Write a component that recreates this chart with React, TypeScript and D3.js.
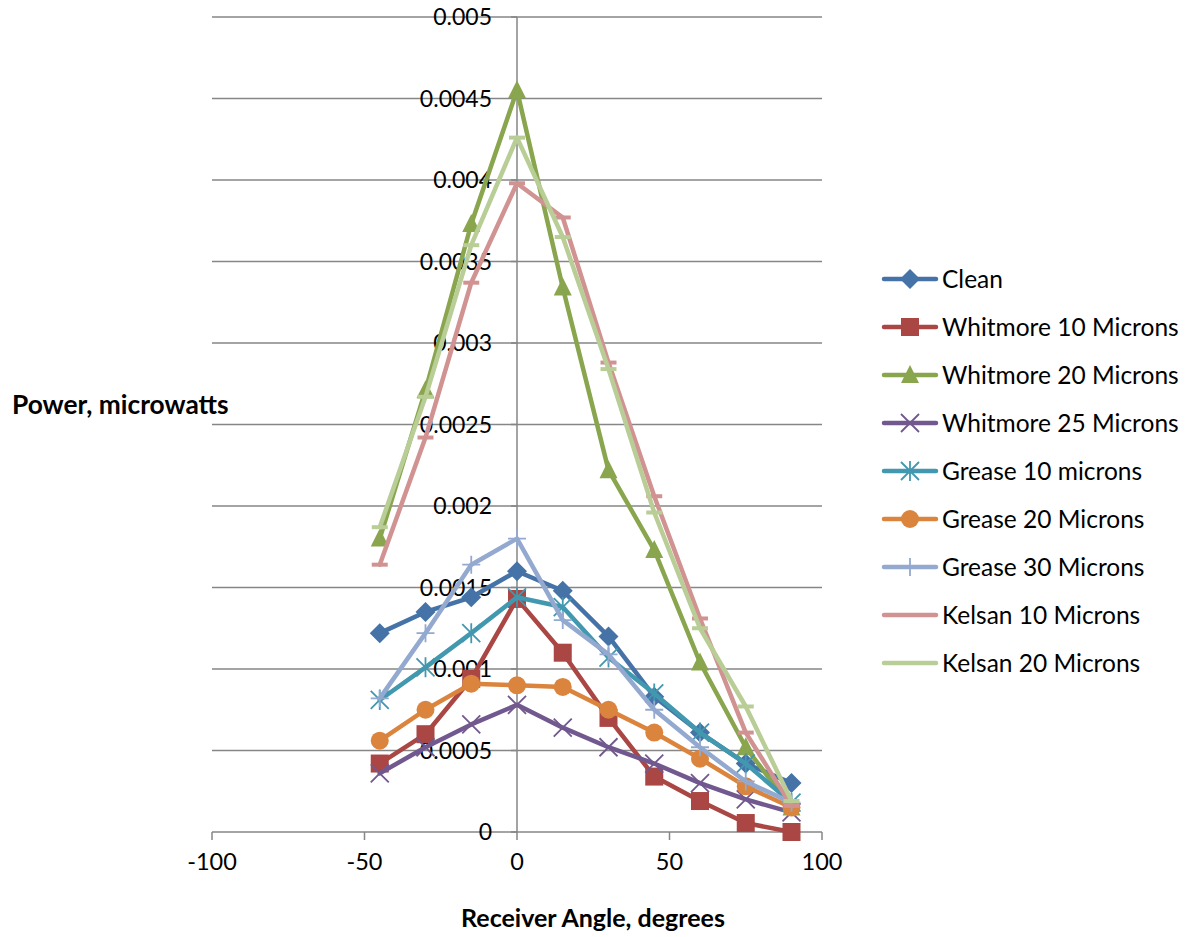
import React from "react";
import * as d3 from "d3";

const angles = [-45, -30, -15, 0, 15, 30, 45, 60, 75, 90];

const clean = [0.00122, 0.00135, 0.00144, 0.0016, 0.00148, 0.0012, 0.00083, 0.00061, 0.00042, 0.0003];
const whitmore10 = [0.00042, 0.0006, 0.00094, 0.00143, 0.0011, 0.0007, 0.00034, 0.00019, 0.000055, 0.0];
const whitmore20 = [0.0018, 0.00271, 0.00373, 0.00455, 0.00334, 0.00222, 0.00173, 0.00104, 0.00052, 0.00015];
const whitmore25 = [0.00036, 0.00052, 0.00066, 0.00078, 0.00064, 0.00052, 0.00042, 0.0003, 0.0002, 0.00012];
const grease10 = [0.00081, 0.00101, 0.00122, 0.00144, 0.00138, 0.00107, 0.00085, 0.00061, 0.00042, 0.00018];
const grease20 = [0.00056, 0.00075, 0.00091, 0.0009, 0.00089, 0.00075, 0.00061, 0.00045, 0.00028, 0.00015];
const grease30 = [0.00082, 0.00122, 0.00164, 0.0018, 0.0013, 0.00109, 0.00075, 0.00052, 0.00031, 0.00018];
const kelsan10 = [0.00164, 0.00242, 0.00337, 0.00398, 0.00377, 0.00288, 0.00206, 0.00131, 0.00061, 0.00016];
const kelsan20 = [0.00187, 0.00267, 0.0036, 0.00426, 0.00365, 0.00284, 0.00196, 0.00125, 0.00077, 0.00019];

const seriesNames = [
  "Clean",
  "Whitmore 10 Microns",
  "Whitmore 20 Microns",
  "Whitmore 25 Microns",
  "Grease 10 microns",
  "Grease 20 Microns",
  "Grease 30 Microns",
  "Kelsan 10 Microns",
  "Kelsan 20 Microns",
];
const seriesValues = [clean, whitmore10, whitmore20, whitmore25, grease10, grease20, grease30, kelsan10, kelsan20];
const seriesColors = ["#4572A7", "#AA4643", "#89A54E", "#71588F", "#4198AF", "#DB843D", "#93A9CF", "#D19392", "#B9CD96"];
const seriesMarkers = ["diamond", "square", "triangle", "x", "star", "circle", "plus", "dash", "dash"];

const xTicks = [-100, -50, 0, 50, 100];
const yTicks = [0, 0.0005, 0.001, 0.0015, 0.002, 0.0025, 0.003, 0.0035, 0.004, 0.0045, 0.005];

const W = 1187;
const H = 937;
const plot = { left: 212, right: 822, top: 17, bottom: 832 };
const FONT = "Lato, 'Open Sans', 'DejaVu Sans', sans-serif";

const x = d3.scaleLinear().domain([-100, 100]).range([plot.left, plot.right]);
const y = d3.scaleLinear().domain([0, 0.005]).range([plot.bottom, plot.top]);

function Marker({ kind, cx, cy, color }: { kind: string; cx: number; cy: number; color: string }) {
  const s = 9;
  switch (kind) {
    case "diamond":
      return <path d={`M${cx},${cy - s - 1}L${cx + s + 1},${cy}L${cx},${cy + s + 1}L${cx - s - 1},${cy}Z`} fill={color} />;
    case "square":
      return <rect x={cx - s} y={cy - s} width={2 * s} height={2 * s} fill={color} />;
    case "triangle":
      return <path d={`M${cx},${cy - s - 1}L${cx + s},${cy + s - 1}L${cx - s},${cy + s - 1}Z`} fill={color} />;
    case "circle":
      return <circle cx={cx} cy={cy} r={s} fill={color} />;
    case "x":
      return (
        <path d={`M${cx - s},${cy - s}L${cx + s},${cy + s}M${cx - s},${cy + s}L${cx + s},${cy - s}`} stroke={color} strokeWidth={1.8} />
      );
    case "star":
      return (
        <path
          d={`M${cx - s},${cy - s}L${cx + s},${cy + s}M${cx - s},${cy + s}L${cx + s},${cy - s}M${cx},${cy - s - 1}L${cx},${cy + s + 1}`}
          stroke={color}
          strokeWidth={1.8}
        />
      );
    case "plus":
      return (
        <path d={`M${cx - s},${cy}L${cx + s},${cy}M${cx},${cy - s}L${cx},${cy + s}`} stroke={color} strokeWidth={1.8} />
      );
    case "dash":
      return <path d={`M${cx - 8},${cy}L${cx + 8},${cy}`} stroke={color} strokeWidth={4} />;
    default:
      return null;
  }
}

export default function App() {
  const line = d3
    .line<number>()
    .x((_, i) => x(angles[i]))
    .y((d) => y(d));

  const yFmt = (v: number) => (v === 0 ? "0" : String(+v.toFixed(4)));

  return (
    <svg width={W} height={H} style={{ display: "block", position: "absolute", left: 0, top: 0, background: "#fff" }} fontFamily={FONT}>
      {/* horizontal gridlines */}
      {yTicks.map((t) => (
        <line key={"g" + t} x1={plot.left} x2={plot.right} y1={y(t)} y2={y(t)} stroke="#868686" strokeWidth={1.5} />
      ))}
      {/* vertical axis at angle 0 */}
      <line x1={x(0)} x2={x(0)} y1={plot.top} y2={plot.bottom} stroke="#868686" strokeWidth={1.5} />
      {yTicks.map((t) => (
        <line key={"yt" + t} x1={x(0) - 6} x2={x(0)} y1={y(t)} y2={y(t)} stroke="#868686" strokeWidth={1.5} />
      ))}
      {/* x axis ticks */}
      {xTicks.map((t) => (
        <line key={"xt" + t} x1={x(t)} x2={x(t)} y1={plot.bottom} y2={plot.bottom + 8} stroke="#868686" strokeWidth={1.5} />
      ))}
      {/* y tick labels */}
      {yTicks.map((t) => (
        <text key={"yl" + t} x={x(0) - 25} y={y(t)} dy="0.35em" textAnchor="end" fontSize={23} fill="#000">
          {yFmt(t)}
        </text>
      ))}
      {/* x tick labels */}
      {xTicks.map((t) => (
        <text key={"xl" + t} x={x(t)} y={plot.bottom + 30} dy="0.35em" textAnchor="middle" fontSize={23.5} fill="#000">
          {t}
        </text>
      ))}

      {/* series lines and markers */}
      {seriesValues.map((vals, si) => (
        <g key={seriesNames[si]}>
          <path d={line(vals) ?? ""} fill="none" stroke={seriesColors[si]} strokeWidth={4.5} strokeLinejoin="round" strokeLinecap="round" />
          {vals.map((v, i) => (
            <Marker key={i} kind={seriesMarkers[si]} cx={x(angles[i])} cy={y(v)} color={seriesColors[si]} />
          ))}
        </g>
      ))}

      {/* axis titles */}
      <text x={12} y={405} dy="0.35em" fontSize={26.3} fontWeight="bold" fill="#000">
        Power, microwatts
      </text>
      <text x={593} y={918} dy="0.35em" textAnchor="middle" fontSize={25} fontWeight="bold" fill="#000">
        Receiver Angle, degrees
      </text>

      {/* legend */}
      {seriesNames.map((name, i) => {
        const ly = 279 + i * 48;
        return (
          <g key={"lg" + name}>
            <line x1={884} x2={936} y1={ly} y2={ly} stroke={seriesColors[i]} strokeWidth={4.5} strokeLinecap="round" />
            {seriesMarkers[i] !== "dash" && <Marker kind={seriesMarkers[i]} cx={910} cy={ly} color={seriesColors[i]} />}
            <text x={942} y={ly} dy="0.35em" fontSize={24.5} fill="#000">
              {name}
            </text>
          </g>
        );
      })}
    </svg>
  );
}
